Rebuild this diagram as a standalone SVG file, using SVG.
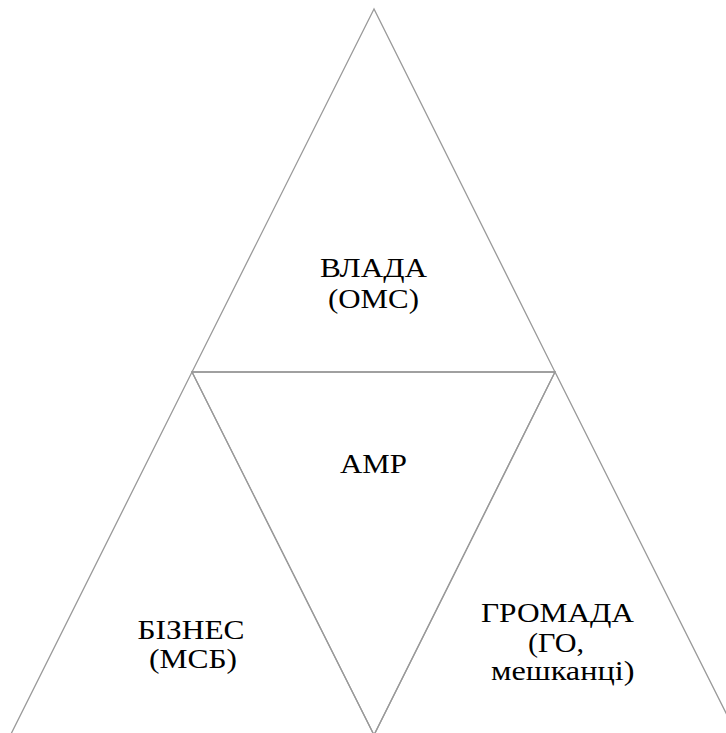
<svg xmlns="http://www.w3.org/2000/svg" width="726" height="733" viewBox="0 0 726 733">
<style>
text{font-size:28px}
.tri{fill:none;stroke:#9a9a9a;stroke-width:1.3}
</style>
<rect width="726" height="733" fill="#fff"/>
<g id="connectors">
<polygon class="tri" points="374,9 192,372 555,372"/>
<polygon class="tri" points="192,372 10.5,735 374,735"/>
<polygon class="tri" points="555,372 374,735 737,735"/>
<polygon class="tri" points="192,372 555,372 374,735"/>
</g>
<g id="vlada"><text font-family="Liberation Serif" x="320" y="277" textLength="107" lengthAdjust="spacingAndGlyphs">ВЛАДА</text><text font-family="Liberation Serif" x="328" y="308" textLength="91" lengthAdjust="spacingAndGlyphs">(ОМС)</text></g>
<text font-family="Liberation Serif" x="340" y="473" textLength="67" lengthAdjust="spacingAndGlyphs">АМР</text>
<g id="biznes"><text font-family="Times New Roman" x="137.5" y="639" textLength="107" lengthAdjust="spacingAndGlyphs">БІЗНЕС</text><text font-family="Times New Roman" x="149" y="668" textLength="88" lengthAdjust="spacingAndGlyphs">(МСБ)</text></g>
<g id="hromada"><text font-family="serif" x="481" y="621.5" textLength="153" lengthAdjust="spacingAndGlyphs">ГРОМАДА</text><text font-family="serif" x="528" y="651.5" textLength="56" lengthAdjust="spacingAndGlyphs">(ГО,</text><text font-family="serif" x="491" y="679.5" textLength="143.5" lengthAdjust="spacingAndGlyphs">мешканці)</text></g>
</svg>
